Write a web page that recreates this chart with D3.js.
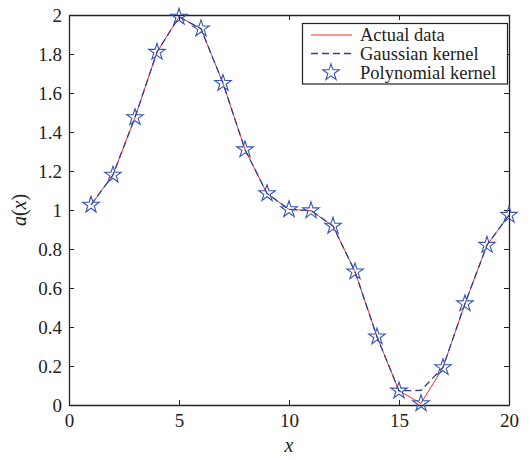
<!DOCTYPE html>
<html>
<head>
<meta charset="utf-8">
<script src="https://cdn.jsdelivr.net/npm/d3@7"></script>
<style>
  body { margin: 0; background: #fff; }
</style>
</head>
<body>
<script>
let w = 530;
let h = 460;

// data
let xs = [1, 2, 3, 4, 5, 6, 7, 8, 9, 10, 11, 12, 13, 14, 15, 16, 17, 18, 19, 20];
let actual = [1.026, 1.18, 1.475, 1.81, 1.99, 1.93, 1.65, 1.31, 1.085, 1.003,
              0.997, 0.918, 0.684, 0.35, 0.073, 0.008, 0.193, 0.52, 0.82, 0.974];
let gaussian = [1.026, 1.18, 1.475, 1.81, 1.99, 1.93, 1.65, 1.31, 1.085, 1.003,
                0.997, 0.918, 0.684, 0.35, 0.073, 0.075, 0.193, 0.52, 0.82, 0.974];
let polynomial = [1.026, 1.18, 1.475, 1.81, 1.99, 1.93, 1.65, 1.31, 1.085, 1.003,
                  0.997, 0.918, 0.684, 0.35, 0.073, 0.008, 0.193, 0.52, 0.82, 0.974];
let xTicks = [0, 5, 10, 15, 20];
let yTicks = [0, 0.2, 0.4, 0.6, 0.8, 1, 1.2, 1.4, 1.6, 1.8, 2];
let legendLabels = ["Actual data", "Gaussian kernel", "Polynomial kernel"];

let mLeft = 69, mRight = 509, mTop = 15, mBottom = 405;
let serif = "'Liberation Serif', 'Times New Roman', serif";

let x = d3.scaleLinear().domain([0, 20]).range([mLeft, mRight]);
let y = d3.scaleLinear().domain([0, 2]).range([mBottom, mTop]);

let svg = d3.select("body")
            .append("svg")
            .attr("width", w)
            .attr("height", h)
            .attr("font-family", serif);

let red = "#ff2a2a";
let blue = "#2c3f96";
let starBlue = "#3556b3";

//axes, matlab style: ticks inward on all four sides
let tickLen = 5;
let axB = svg.append("g").attr("transform", `translate(0,${mBottom})`)
             .call(d3.axisBottom(x).tickValues(xTicks).tickSizeInner(-tickLen).tickSizeOuter(0).tickPadding(8));
let axT = svg.append("g").attr("transform", `translate(0,${mTop})`)
             .call(d3.axisTop(x).tickValues(xTicks).tickSizeInner(-tickLen).tickSizeOuter(0).tickFormat(""));
let axL = svg.append("g").attr("transform", `translate(${mLeft},0)`)
             .call(d3.axisLeft(y).tickValues(yTicks).tickSizeInner(-tickLen).tickSizeOuter(0).tickPadding(7)
             .tickFormat(d3.format("~g")));
let axR = svg.append("g").attr("transform", `translate(${mRight},0)`)
             .call(d3.axisRight(y).tickValues(yTicks).tickSizeInner(-tickLen).tickSizeOuter(0).tickFormat(""));

[axB, axT, axL, axR].forEach(g => {
	g.attr("font-family", serif).attr("font-size", 19);
	g.select(".domain").attr("stroke", "#222").attr("stroke-width", 1.3);
	g.selectAll(".tick line").attr("stroke", "#222").attr("stroke-width", 1);
	g.selectAll("text").attr("fill", "#222");
});
axB.selectAll("text").attr("dy", "0.75em");
axL.selectAll("text").attr("dy", "0.33em");

// lines
let line = d3.line().x((d, i) => x(xs[i])).y(d => y(d));

svg.append("path")
   .datum(actual)
   .attr("d", line)
   .attr("fill", "none")
   .attr("stroke", red)
   .attr("stroke-width", 1);

svg.append("path")
   .datum(gaussian)
   .attr("d", line)
   .attr("fill", "none")
   .attr("stroke", blue)
   .attr("stroke-width", 1.3)
   .attr("stroke-dasharray", "7,4");

let star = d3.symbol().type(d3.symbolStar).size(85);

svg.selectAll(".star")
   .data(polynomial)
   .enter()
   .append("path")
   .attr("class", "star")
   .attr("d", star)
   .attr("transform", (d, i) => `translate(${x(xs[i])},${y(d)})`)
   .attr("fill", "none")
   .attr("stroke", starBlue)
   .attr("stroke-width", 1.1);

// axis titles
svg.append("text")
   .attr("x", (mLeft + mRight) / 2)
   .attr("y", 452)
   .attr("text-anchor", "middle")
   .attr("font-size", 20)
   .attr("font-style", "italic")
   .attr("fill", "#222")
   .text("x");

let yl = svg.append("text")
   .attr("transform", `translate(26,${(mTop + mBottom) / 2}) rotate(-90)`)
   .attr("text-anchor", "middle")
   .attr("font-size", 20)
   .attr("fill", "#222");
yl.append("tspan").attr("font-style", "italic").text("a");
yl.append("tspan").text("(");
yl.append("tspan").attr("font-style", "italic").text("x");
yl.append("tspan").text(")");

//legend
let lg = svg.append("g").attr("class", "legend");
lg.append("rect")
  .attr("x", 302.5).attr("y", 23.5)
  .attr("width", 205).attr("height", 60.5)
  .attr("fill", "#fff")
  .attr("stroke", "#222")
  .attr("stroke-width", 1.2);

let rowY = [35, 53.5, 72.5];

lg.append("line").attr("x1", 311).attr("x2", 352).attr("y1", rowY[0]).attr("y2", rowY[0])
  .attr("stroke", red).attr("stroke-width", 1);
lg.append("line").attr("x1", 311).attr("x2", 352).attr("y1", rowY[1]).attr("y2", rowY[1])
  .attr("stroke", blue).attr("stroke-width", 1.3).attr("stroke-dasharray", "7,4");
lg.append("path").attr("d", star).attr("transform", `translate(331,${rowY[2]})`)
  .attr("fill", "none").attr("stroke", starBlue).attr("stroke-width", 1.1);

lg.selectAll(".lab")
  .data(legendLabels)
  .enter()
  .append("text")
  .attr("class", "lab")
  .attr("x", 360)
  .attr("y", (d, i) => rowY[i])
  .attr("dy", "0.35em")
  .attr("font-size", 18.5)
  .attr("fill", "#222")
  .text(d => d);
</script>
</body>
</html>
